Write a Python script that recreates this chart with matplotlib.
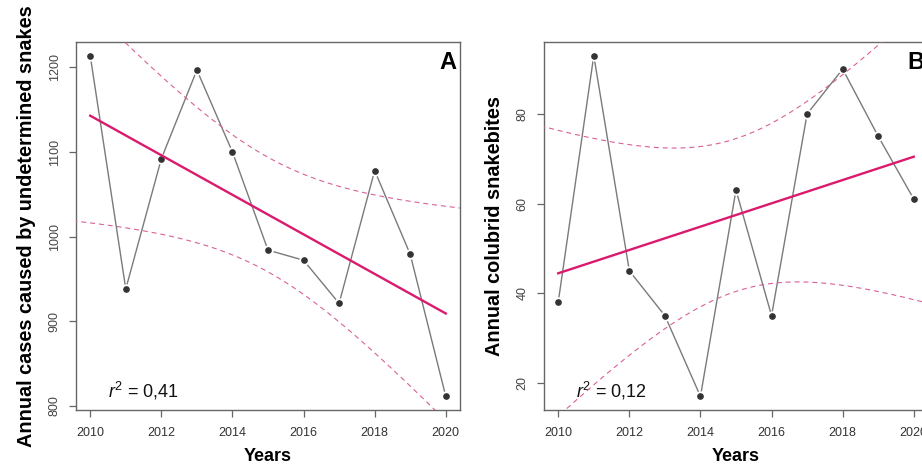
import numpy as np
import matplotlib
matplotlib.use("Agg")
import matplotlib.pyplot as plt

plt.rcParams["font.family"] = ["Liberation Sans", "DejaVu Sans"]
plt.rcParams["mathtext.fontset"] = "custom"
plt.rcParams["mathtext.rm"] = "Liberation Sans"
plt.rcParams["mathtext.it"] = "Liberation Sans:italic"

# data
years = np.arange(2010, 2021)
undetermined = [1214, 938, 1092, 1197, 1100, 984, 972, 921, 1078, 979, 811]
colubrid = [38, 93, 45, 35, 17, 63, 35, 80, 90, 75, 61]

panels = [
    dict(y=undetermined, ylab="Annual cases caused by undetermined snakes",
         yticks=[800, 900, 1000, 1100, 1200], r2="0,41", tag="A"),
    dict(y=colubrid, ylab="Annual colubrid snakebites",
         yticks=[20, 40, 60, 80], r2="0,12", tag="B"),
]
xticks = [2010, 2012, 2014, 2016, 2018, 2020]
T_975_DF9 = 2.262  # t quantile for 95% CI, n = 11

FIT = "#DB1A6E"
BAND = "#D9609A"
AXC = "#666666"
TXT = "#333333"

W, H = 922, 471
fig = plt.figure(figsize=(W / 100, H / 100), dpi=100)

lefts = [76, 544]
for left, p in zip(lefts, panels):
    ax = fig.add_axes([left / W, (H - 410) / H, 384 / W, 368 / H])
    x = years.astype(float)
    y = np.array(p["y"], dtype=float)

    # R-style type="b": line with gaps around points
    ax.plot(x, y, color="#7a7a7a", lw=1.0, marker="o", ms=7.5,
            mfc="white", mec="white", mew=0, zorder=2)
    ax.plot(x, y, ls="none", marker="o", ms=3.8, color="#333333", zorder=3)

    # linear fit and 95% confidence band
    slope, icpt = np.polyfit(x, y, 1)
    n = len(x)
    resid = y - (slope * x + icpt)
    s = np.sqrt(np.sum(resid ** 2) / (n - 2))
    sxx = np.sum((x - x.mean()) ** 2)
    xg = np.linspace(2009.5, 2020.5, 300)
    fitg = slope * xg + icpt
    half = T_975_DF9 * s * np.sqrt(1 / n + (xg - x.mean()) ** 2 / sxx)

    ax.plot([x[0], x[-1]], [slope * x[0] + icpt, slope * x[-1] + icpt],
            color=FIT, lw=1.7, zorder=4)
    ax.plot(xg, fitg + half, color=BAND, lw=0.8, dashes=(4.5, 3.5), zorder=4)
    ax.plot(xg, fitg - half, color=BAND, lw=0.8, dashes=(4.5, 3.5), zorder=4)

    pad = 0.04 * (y.max() - y.min())
    ax.set_xlim(2010 - 0.4, 2020 + 0.4)
    ax.set_ylim(y.min() - pad, y.max() + pad)
    ax.set_xticks(xticks)
    ax.set_yticks(p["yticks"])

    for sp in ax.spines.values():
        sp.set_color(AXC)
        sp.set_linewidth(1.0)
    ax.tick_params(colors=AXC, labelcolor=TXT, length=5, width=0.9,
                   labelsize=9)
    ax.tick_params(axis="x", pad=7.5)
    ax.tick_params(axis="y", pad=6, labelrotation=90, labelcolor="#444444")
    for lab in ax.get_yticklabels():
        lab.set_va("center")

    ax.set_xlabel("Years", fontsize=13, fontweight="bold", labelpad=6)
    ax.set_ylabel(p["ylab"], fontsize=14.3, fontweight="bold", labelpad=9)

    ax.text(0.083, 0.035, "$r^2$ = " + p["r2"], transform=ax.transAxes,
            fontsize=13, ha="left", va="baseline", color="#111111")
    ax.text(0.99, 0.975, p["tag"], transform=ax.transAxes, fontsize=17,
            fontweight="bold", ha="right", va="top")

fig.savefig("out.png", dpi=100)
